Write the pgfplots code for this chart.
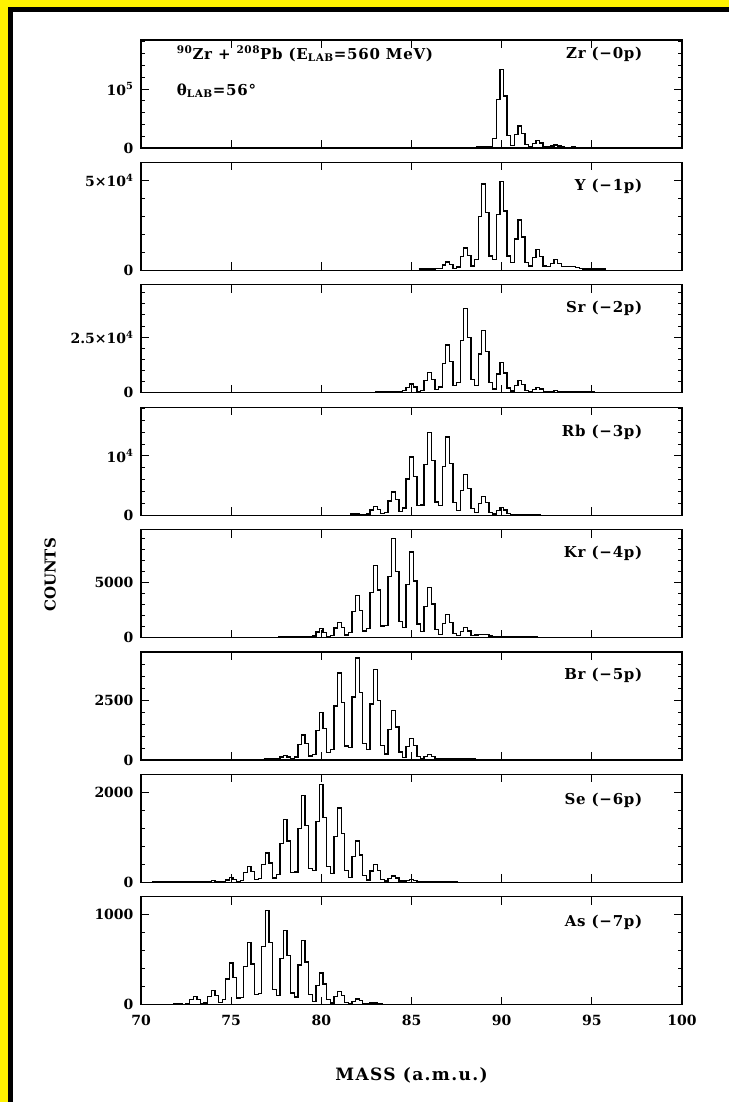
\documentclass[border=0pt]{standalone}
\usepackage{fontspec}
\setmainfont{DejaVu Serif}
\newfontfamily\spaced{DejaVu Serif}[LetterSpace=5]
\newfontfamily\wide{DejaVu Serif}[LetterSpace=8]
\usepackage{pgfplots}
\pgfplotsset{compat=1.18}

% common look of the eight stacked mass spectra
\pgfplotsset{
  panel/.style={
    scale only axis, width=541pt, height=108pt,
    xmin=70, xmax=100, ymin=0,
    xtick={70,75,...,100}, xticklabels={},
    tick align=inside, tick pos=both,
    major tick length=8pt, minor tick length=4pt,
    axis line style={line width=1.1pt},
    every tick/.style={black, line width=0.9pt},
    scaled y ticks=false,
    /pgf/number format/assume math mode=true,
    tick label style={font=\bfseries\fontsize{14}{16}\selectfont},
    yticklabel style={xshift=-4pt},
    anchor=south west,
  },
  hist/.style={const plot mark mid, black, line width=1.3pt},
}
\tikzset{tag/.style={font=\spaced\bfseries\fontsize{15}{17}\selectfont, inner sep=0pt},
         iso/.style={tag, anchor=east}}

\begin{document}
\begin{tikzpicture}
\useasboundingbox (0,0) rectangle (729pt,1102pt);
% page frame
\fill[white] (0,0) rectangle (729pt,1102pt);
\fill[yellow] (0,0) rectangle (8pt,1102pt);
\fill[yellow] (0,1095pt) rectangle (729pt,1102pt);
\fill[black] (8pt,0) rectangle (13pt,1095pt);
\fill[black] (8pt,1090pt) rectangle (729pt,1095pt);

% Zr (-0p)
\begin{axis}[panel, at={(141pt,954pt)}, ymax=183000,
  ytick={0,100000}, yticklabels={0,{10\textsuperscript{5}}},
  minor ytick={20000,40000,...,180000}]
\addplot[hist] coordinates {(88.6,1500)(88.8,1500)(89.0,1500)(89.2,1500)(89.4,1800)(89.6,16000)(89.8,82000)(90.0,133000)(90.2,88000)(90.4,21000)(90.6,4500)(90.8,23000)(91.0,37500)(91.2,25000)(91.4,6000)(91.6,2500)(91.8,8000)(92.0,13000)(92.2,8500)(92.4,2500)(92.6,1500)(92.8,3200)(93.0,5000)(93.2,3300)(93.4,1500)(93.6,1000)(93.8,1200)(94.0,2500)(94.2,1000)(94.4,800)(94.6,1000)(94.8,1000)(95.0,1000)};
\node[tag, anchor=west] at (rel axis cs:0.066,0.87) {\textsuperscript{90}Zr + \textsuperscript{208}Pb (E\textsubscript{LAB}=560 MeV)};
\node[tag, anchor=west] at (rel axis cs:0.066,0.53) {θ\textsubscript{LAB}=56°};
\node[iso] at (rel axis cs:0.927,0.87) {Zr (−0p)};
\end{axis}

% Y (-1p)
\begin{axis}[panel, at={(141pt,831.6pt)}, ymax=60000,
  ytick={0,50000}, yticklabels={0,{5×10\textsuperscript{4}}},
  minor ytick={10000,20000,...,60000}]
\addplot[hist] coordinates {(85.4,800)(85.6,800)(85.8,800)(86.0,800)(86.2,800)(86.4,1000)(86.6,1200)(86.8,3000)(87.0,4700)(87.2,3100)(87.4,1000)(87.6,1800)(87.8,7800)(88.0,12500)(88.2,8300)(88.4,2500)(88.6,6000)(88.8,30000)(89.0,48000)(89.2,32000)(89.4,8000)(89.6,6000)(89.8,31000)(90.0,49500)(90.2,33000)(90.4,8000)(90.6,4500)(90.8,17500)(91.0,28000)(91.2,18500)(91.4,4500)(91.6,2500)(91.8,7200)(92.0,11600)(92.2,7700)(92.4,2500)(92.6,2200)(92.8,4000)(93.0,6000)(93.2,4000)(93.4,2200)(93.6,2000)(93.8,2000)(94.0,2000)(94.2,1500)(94.4,1000)(94.6,800)(94.8,800)(95.0,800)(95.2,800)(95.4,800)(95.6,800)(95.8,800)};
\node[iso] at (rel axis cs:0.927,0.78) {Y (−1p)};
\end{axis}

% Sr (-2p)
\begin{axis}[panel, at={(141pt,709.2pt)}, ymax=48500,
  ytick={0,25000}, yticklabels={0,{2.5×10\textsuperscript{4}}},
  minor ytick={5000,10000,...,45000}]
\addplot[hist] coordinates {(83.0,500)(83.2,500)(83.4,500)(83.6,500)(83.8,500)(84.0,500)(84.2,500)(84.4,500)(84.6,900)(84.8,2500)(85.0,4000)(85.2,2600)(85.4,700)(85.6,1100)(85.8,5600)(86.0,9000)(86.2,5900)(86.4,1500)(86.6,2600)(86.8,13300)(87.0,21500)(87.2,14200)(87.4,3400)(87.6,4500)(87.8,23400)(88.0,37700)(88.2,24900)(88.4,6000)(88.6,3400)(88.8,17400)(89.0,28000)(89.2,18500)(89.4,4500)(89.6,1700)(89.8,8400)(90.0,13500)(90.2,8900)(90.4,2200)(90.6,800)(90.8,3400)(91.0,5500)(91.2,3600)(91.4,900)(91.6,500)(91.8,1600)(92.0,2500)(92.2,1700)(92.4,600)(92.6,500)(92.8,700)(93.0,1000)(93.2,700)(93.4,500)(93.6,500)(93.8,500)(94.0,500)(94.2,500)(94.4,500)(94.6,500)(94.8,500)(95.0,500)(95.2,500)};
\node[iso] at (rel axis cs:0.927,0.78) {Sr (−2p)};
\end{axis}

% Rb (-3p)
\begin{axis}[panel, at={(141pt,586.8pt)}, ymax=18200,
  ytick={0,10000}, yticklabels={0,{10\textsuperscript{4}}},
  minor ytick={2000,4000,...,18000}]
\addplot[hist] coordinates {(81.6,200)(81.8,200)(82.0,200)(82.2,100)(82.4,50)(82.6,200)(82.8,900)(83.0,1500)(83.2,1000)(83.4,250)(83.6,450)(83.8,2400)(84.0,3900)(84.2,2600)(84.4,600)(84.6,1200)(84.8,6100)(85.0,9800)(85.2,6500)(85.4,1600)(85.6,1700)(85.8,8600)(86.0,13900)(86.2,9200)(86.4,2200)(86.6,1600)(86.8,8200)(87.0,13200)(87.2,8700)(87.4,2100)(87.6,800)(87.8,4200)(88.0,6800)(88.2,4500)(88.4,1100)(88.6,400)(88.8,2000)(89.0,3200)(89.2,2100)(89.4,500)(89.6,200)(89.8,800)(90.0,1300)(90.2,850)(90.4,250)(90.6,150)(90.8,150)(91.0,150)(91.2,150)(91.4,150)(91.6,150)(91.8,150)(92.0,150)(92.2,150)};
\node[iso] at (rel axis cs:0.927,0.77) {Rb (−3p)};
\end{axis}

% Kr (-4p)
\begin{axis}[panel, at={(141pt,464.4pt)}, ymax=9850,
  ytick={0,5000}, yticklabels={0,5000},
  minor ytick={1000,2000,...,9000},
  ylabel={COUNTS},
  ylabel style={at={(axis description cs:-0.168,0.58)}, anchor=center, font=\bfseries\fontsize{15}{17}\selectfont}]
\addplot[hist] coordinates {(77.6,100)(77.8,100)(78.0,100)(78.2,100)(78.4,100)(78.6,100)(78.8,100)(79.0,100)(79.2,100)(79.4,100)(79.6,150)(79.8,500)(80.0,800)(80.2,450)(80.4,100)(80.6,200)(80.8,870)(81.0,1400)(81.2,920)(81.4,250)(81.6,460)(81.8,2400)(82.0,3850)(82.2,2500)(82.4,600)(82.6,800)(82.8,4100)(83.0,6600)(83.2,4350)(83.4,1050)(83.6,1100)(83.8,5600)(84.0,9050)(84.2,6000)(84.4,1450)(84.6,950)(84.8,4850)(85.0,7800)(85.2,5150)(85.4,1250)(85.6,550)(85.8,2850)(86.0,4600)(86.2,3050)(86.4,750)(86.6,300)(86.8,1300)(87.0,2100)(87.2,1400)(87.4,350)(87.6,200)(87.8,560)(88.0,900)(88.2,600)(88.4,200)(88.6,250)(88.8,300)(89.0,300)(89.2,300)(89.4,150)(89.6,100)(89.8,100)(90.0,100)(90.2,100)(90.4,100)(90.6,100)(90.8,100)(91.0,100)(91.2,100)(91.4,100)(91.6,100)(91.8,100)(92.0,100)};
\node[iso] at (rel axis cs:0.927,0.78) {Kr (−4p)};
\end{axis}

% Br (-5p)
\begin{axis}[panel, at={(141pt,342pt)}, ymax=4500,
  ytick={0,2500}, yticklabels={0,2500},
  minor ytick={500,1000,...,4500}]
\addplot[hist] coordinates {(76.8,50)(77.0,50)(77.2,50)(77.4,50)(77.6,70)(77.8,130)(78.0,200)(78.2,130)(78.4,50)(78.6,120)(78.8,650)(79.0,1040)(79.2,690)(79.4,170)(79.6,240)(79.8,1220)(80.0,1970)(80.2,1300)(80.4,320)(80.6,430)(80.8,2250)(81.0,3620)(81.2,2400)(81.4,580)(81.6,510)(81.8,2630)(82.0,4250)(82.2,2800)(82.4,680)(82.6,450)(82.8,2330)(83.0,3760)(83.2,2480)(83.4,600)(83.6,250)(83.8,1280)(84.0,2070)(84.2,1370)(84.4,330)(84.6,110)(84.8,560)(85.0,900)(85.2,590)(85.4,140)(85.6,60)(85.8,150)(86.0,230)(86.2,150)(86.4,60)(86.6,60)(86.8,50)(87.0,50)(87.2,50)(87.4,50)(87.6,50)(87.8,50)(88.0,50)(88.2,50)(88.4,50)(88.6,50)};
\node[iso] at (rel axis cs:0.927,0.78) {Br (−5p)};
\end{axis}

% Se (-6p)
\begin{axis}[panel, at={(141pt,219.6pt)}, ymax=2400,
  ytick={0,2000}, yticklabels={0,2000},
  minor ytick={400,800,...,2400}]
\addplot[hist] coordinates {(70.6,20)(70.8,20)(71.0,20)(71.2,20)(71.4,20)(71.6,20)(71.8,20)(72.0,20)(72.2,20)(72.4,20)(72.6,20)(72.8,20)(73.0,20)(73.2,20)(73.4,20)(73.6,20)(73.8,20)(74.0,40)(74.2,20)(74.4,20)(74.6,20)(74.8,50)(75.0,110)(75.2,70)(75.4,25)(75.6,45)(75.8,220)(76.0,360)(76.2,240)(76.4,60)(76.6,80)(76.8,400)(77.0,650)(77.2,430)(77.4,100)(77.6,170)(77.8,870)(78.0,1400)(78.2,920)(78.4,220)(78.6,230)(78.8,1200)(79.0,1930)(79.2,1270)(79.4,310)(79.6,260)(79.8,1350)(80.0,2180)(80.2,1440)(80.4,350)(80.6,200)(80.8,1020)(81.0,1650)(81.2,1090)(81.4,260)(81.6,110)(81.8,570)(82.0,920)(82.2,610)(82.4,150)(82.6,50)(82.8,250)(83.0,400)(83.2,260)(83.4,65)(83.6,30)(83.8,90)(84.0,145)(84.2,95)(84.4,30)(84.6,30)(84.8,45)(85.0,70)(85.2,45)(85.4,25)(85.6,20)(85.8,20)(86.0,20)(86.2,20)(86.4,20)(86.6,20)(86.8,20)(87.0,20)(87.2,20)(87.4,20)(87.6,20)};
\node[iso] at (rel axis cs:0.927,0.76) {Se (−6p)};
\end{axis}

% As (-7p)
\begin{axis}[panel, at={(141pt,97.2pt)}, ymax=1190,
  ytick={0,1000}, yticklabels={0,1000},
  minor ytick={200,400,...,1000},
  xticklabels={70,75,80,85,90,95,100},
  xticklabel style={yshift=-7pt},
  xlabel={MASS (a.m.u.)},
  xlabel style={at={(axis description cs:0.5,-0.65)}, anchor=center, font=\wide\bfseries\fontsize{17}{19}\selectfont}]
\addplot[hist] coordinates {(71.8,15)(72.0,15)(72.2,15)(72.4,5)(72.6,12)(72.8,55)(73.0,90)(73.2,60)(73.4,15)(73.6,20)(73.8,95)(74.0,155)(74.2,100)(74.4,25)(74.6,55)(74.8,285)(75.0,460)(75.2,300)(75.4,75)(75.6,80)(75.8,425)(76.0,685)(76.2,450)(76.4,110)(76.6,125)(76.8,645)(77.0,1040)(77.2,690)(77.4,165)(77.6,100)(77.8,510)(78.0,820)(78.2,540)(78.4,130)(78.6,85)(78.8,440)(79.0,710)(79.2,470)(79.4,115)(79.6,40)(79.8,215)(80.0,350)(80.2,230)(80.4,55)(80.6,20)(80.8,95)(81.0,150)(81.2,100)(81.4,25)(81.6,10)(81.8,40)(82.0,65)(82.2,45)(82.4,12)(82.6,15)(82.8,20)(83.0,20)(83.2,15)(83.4,15)};
\node[iso] at (rel axis cs:0.927,0.76) {As (−7p)};
\end{axis}
\end{tikzpicture}
\end{document}
